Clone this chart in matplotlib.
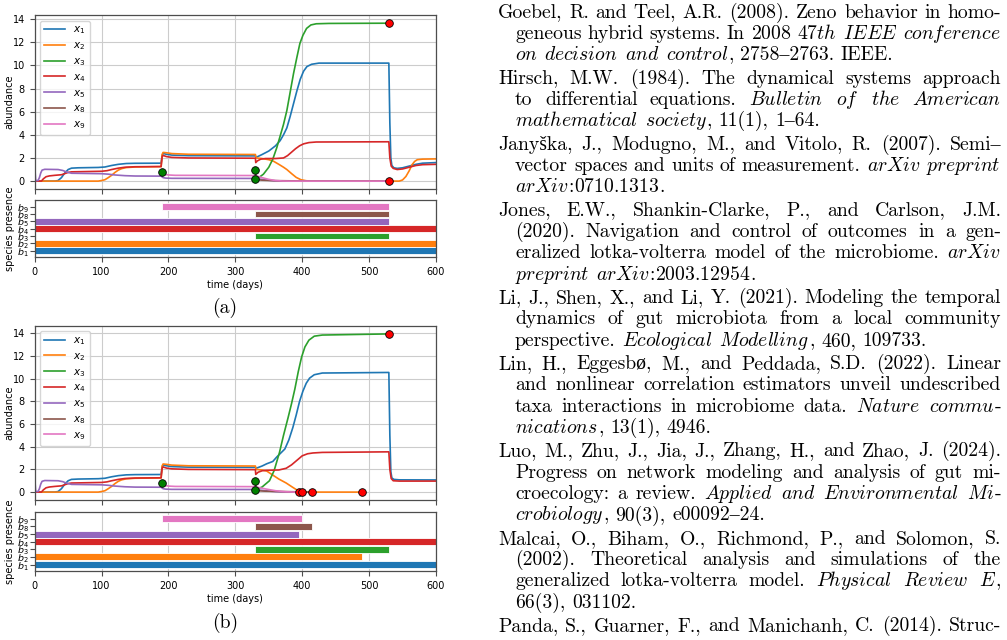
import re
import numpy as np
import matplotlib
matplotlib.use('Agg')
import matplotlib.pyplot as plt

W, H = 1007, 640

# ---------------- data ----------------
labels = [r'$x_1$', r'$x_2$', r'$x_3$', r'$x_4$', r'$x_5$', r'$x_8$', r'$x_9$']
presence_labels = [r'$b_1$', r'$b_2$', r'$b_3$', r'$b_4$', r'$b_5$', r'$b_8$', r'$b_9$']
colors = ['tab:blue', 'tab:orange', 'tab:green', 'tab:red', 'tab:purple', 'tab:brown', 'tab:pink']

# common part (days 0-330), (day, abundance)
x1_early = [(0, 0.0), (30, 0.0), (35, 0.05), (40, 0.3), (45, 0.7), (50, 1.0), (55, 1.12), (65, 1.15),
            (95, 1.18), (105, 1.22), (115, 1.35), (125, 1.45), (137, 1.52), (150, 1.54), (189, 1.55),
            (190.5, 2.2), (192, 2.4), (196, 2.33), (205, 2.25), (230, 2.2), (330, 2.18)]
x2_early = [(0, 0.0), (95, 0.0), (100, 0.05), (105, 0.12), (110, 0.3), (115, 0.5), (120, 0.75),
            (125, 0.95), (130, 1.08), (137, 1.17), (150, 1.22), (189, 1.25), (190.5, 2.3), (192, 2.48),
            (197, 2.45), (205, 2.38), (230, 2.32), (330, 2.3)]
x4_early = [(0, 0.0), (10, 0.0), (13, 0.2), (17, 0.38), (22, 0.45), (30, 0.5), (40, 0.55), (45, 0.65),
            (50, 0.75), (55, 0.8), (100, 0.85), (108, 0.9), (115, 1.0), (125, 1.12), (135, 1.2),
            (150, 1.24), (189, 1.26), (190.5, 2.1), (192, 2.22), (197, 2.12), (205, 2.05), (230, 2.0),
            (330, 1.98)]
x5_early = [(0, 1.3), (1.5, 0.05), (5, 0.05), (7, 0.3), (9, 0.7), (11, 0.95), (15, 1.02), (35, 1.0),
            (42, 0.92), (48, 0.78), (55, 0.68), (100, 0.64), (110, 0.6), (120, 0.53), (135, 0.47),
            (150, 0.44), (189, 0.43), (192, 0.3), (196, 0.26), (205, 0.24), (330, 0.23)]
x9_early = [(190, 0.8), (192, 0.68), (195, 0.58), (200, 0.53), (210, 0.5), (330, 0.48)]

# panel (a), after day 330
x1_a_late = [(331, 2.05), (340, 2.3), (350, 2.6), (360, 3.05), (367, 3.5), (372, 4.0), (377, 4.6),
             (382, 5.6), (387, 6.7), (392, 7.8), (397, 8.8), (402, 9.5), (407, 9.9), (414, 10.1),
             (425, 10.2), (529.5, 10.2), (531, 5.0), (532.5, 2.0), (534, 1.35), (537, 1.15),
             (542, 1.1), (550, 1.15), (560, 1.3), (570, 1.45), (580, 1.55), (600, 1.6)]
x2_a_late = [(331, 2.0), (340, 1.95), (350, 1.85), (357, 1.72), (365, 1.45), (372, 1.2), (377, 1.0),
             (384, 0.65), (391, 0.32), (398, 0.12), (406, 0.03), (415, 0.0), (545, 0.0), (550, 0.1),
             (555, 0.4), (560, 0.9), (564, 1.4), (568, 1.7), (572, 1.85), (580, 1.9), (600, 1.92)]
x3_a = [(330, 0.17), (335, 0.3), (342, 0.6), (350, 1.2), (356, 1.9), (362, 2.9), (367, 3.9),
        (372, 4.9), (377, 6.1), (382, 7.7), (387, 9.3), (392, 10.7), (396.5, 11.9), (401, 12.6),
        (406.5, 13.2), (413, 13.5), (421, 13.6), (440, 13.63), (530, 13.65)]
x4_a_late = [(330.5, 1.6), (333, 1.75), (338, 1.9), (345, 1.95), (360, 1.95), (372, 2.0), (378, 2.2),
             (384, 2.5), (390, 2.8), (396, 3.05), (402, 3.22), (410, 3.33), (421, 3.38), (529.5, 3.4),
             (531, 2.0), (533, 1.3), (536, 1.1), (542, 1.0), (550, 1.05), (560, 1.2), (570, 1.35),
             (580, 1.42), (600, 1.45)]
x5_a_late = [(331, 0.22), (340, 0.15), (350, 0.07), (360, 0.02), (370, 0.0), (530, 0.0)]
x8_a = [(330, 0.92), (331, 0.3), (333, 0.12), (340, 0.08), (360, 0.04), (400, 0.01), (530, 0.0)]
x9_a_late = [(331, 0.46), (340, 0.3), (350, 0.15), (360, 0.05), (370, 0.01), (380, 0.0), (530, 0.0)]

# panel (b), after day 330
x1_b_late = [(331, 2.1), (340, 2.3), (347, 2.5), (356, 2.7), (362, 3.1), (368, 3.45), (374, 3.8),
             (380, 4.6), (386, 5.7), (391, 6.8), (396, 8.0), (401, 8.9), (406, 9.6), (411, 10.05),
             (418, 10.35), (430, 10.5), (529.5, 10.55), (531, 5.0), (532.5, 1.8), (534, 1.25),
             (537, 1.12), (545, 1.08), (600, 1.07)]
x2_b_late = [(331, 2.0), (340, 1.95), (347, 1.85), (356, 1.5), (365, 1.15), (376, 0.8), (385, 0.45),
             (393, 0.15), (398, 0.03), (405, 0.0), (490, 0.0)]
x3_b = [(330, 0.2), (340, 0.45), (351, 1.0), (358, 1.9), (366, 3.5), (372, 5.0), (379, 6.6),
        (384, 7.8), (389, 9.1), (394, 10.6), (399, 11.9), (404, 12.8), (410, 13.4), (418, 13.75),
        (430, 13.85), (480, 13.9), (530, 13.95)]
x4_b_late = [(330.5, 1.56), (334, 1.75), (340, 1.88), (346, 1.92), (365, 1.95), (376, 2.1), (384, 2.4),
             (392, 2.8), (400, 3.2), (408, 3.38), (416, 3.45), (430, 3.5), (529.5, 3.55), (531, 2.0),
             (533, 1.2), (536, 1.0), (545, 0.97), (600, 0.97)]
x5_b_late = [(331, 0.22), (345, 0.12), (360, 0.04), (375, 0.01), (395, 0.0)]
x8_b = [(330, 0.94), (331, 0.3), (333, 0.12), (345, 0.08), (370, 0.05), (395, 0.02), (415, 0.0)]
x9_b_late = [(331, 0.45), (345, 0.28), (360, 0.12), (375, 0.03), (390, 0.0), (400, 0.0)]

green_t_a, green_v_a = [190, 330, 330], [0.8, 0.92, 0.17]
red_t_a, red_v_a = [530, 530], [13.65, 0.0]
green_t_b, green_v_b = [190, 330, 330], [0.83, 0.94, 0.2]
red_t_b, red_v_b = [395, 400, 415, 490, 530], [0.0, 0.0, 0.0, 0.0, 13.95]

# species presence intervals, rows b1 b2 b3 b4 b5 b8 b9
start_a = [0, 0, 330, 0, 0, 330, 190]
end_a = [600, 600, 530, 600, 530, 530, 530]
start_b = [0, 0, 330, 0, 0, 330, 190]
end_b = [600, 490, 530, 600, 395, 415, 400]

series_a = [x1_early + x1_a_late, x2_early + x2_a_late, x3_a, x4_early + x4_a_late,
            x5_early + x5_a_late, x8_a, x9_early + x9_a_late]
series_b = [x1_early + x1_b_late, x2_early + x2_b_late, x3_b, x4_early + x4_b_late,
            x5_early + x5_b_late, x8_b, x9_early + x9_b_late]

# ---------------- reference list text ----------------
refs = [
    ["Goebel, R. and Teel, A.R. (2008). Zeno behavior in homo-",
     "geneous hybrid systems. In *2008 47th IEEE conference*",
     "*on decision and control*, 2758–2763. IEEE."],
    ["Hirsch, M.W. (1984). The dynamical systems approach",
     "to differential equations. *Bulletin of the American*",
     "*mathematical society*, 11(1), 1–64."],
    ["Janyška, J., Modugno, M., and Vitolo, R. (2007). Semi–",
     "vector spaces and units of measurement. *arXiv preprint*",
     "*arXiv:0710.1313*."],
    ["Jones, E.W., Shankin-Clarke, P., and Carlson, J.M.",
     "(2020). Navigation and control of outcomes in a gen-",
     "eralized lotka-volterra model of the microbiome. *arXiv*",
     "*preprint arXiv:2003.12954*."],
    ["Li, J., Shen, X., and Li, Y. (2021). Modeling the temporal",
     "dynamics of gut microbiota from a local community",
     "perspective. *Ecological Modelling*, 460, 109733."],
    ["Lin, H., Eggesbø, M., and Peddada, S.D. (2022). Linear",
     "and nonlinear correlation estimators unveil undescribed",
     "taxa interactions in microbiome data. *Nature commu-*",
     "*nications*, 13(1), 4946."],
    ["Luo, M., Zhu, J., Jia, J., Zhang, H., and Zhao, J. (2024).",
     "Progress on network modeling and analysis of gut mi-",
     "croecology: a review. *Applied and Environmental Mi-*",
     "*crobiology*, 90(3), e00092–24."],
    ["Malcai, O., Biham, O., Richmond, P., and Solomon, S.",
     "(2002). Theoretical analysis and simulations of the",
     "generalized lotka-volterra model. *Physical Review E*,",
     "66(3), 031102."],
    ["Panda, S., Guarner, F., and Manichanh, C. (2014). Struc-"],
]

# ---------------- figure ----------------
fig = plt.figure(figsize=(W / 100, H / 100), dpi=100)


def px_axes(left, top, right, bottom):
    return fig.add_axes([left / W, 1 - bottom / H, (right - left) / W, (bottom - top) / H])


def style(ax):
    for sp in ax.spines.values():
        sp.set_color('0.3')
        sp.set_linewidth(0.9)
    ax.tick_params(labelsize=7, length=3.5, width=0.8, color='0.3')
    ax.set_axisbelow(True)


def draw_panel(ax, axp, series, gt, gv, rt, rv, starts, ends):
    for pts, c, lab in zip(series, colors, labels):
        t, v = zip(*pts)
        ax.plot(t, v, color=c, lw=1.2, label=lab)
    ax.plot(gt, gv, 'o', color='green', mec='k', mew=0.6, ms=5.5, zorder=5)
    ax.plot(rt, rv, 'o', color='red', mec='k', mew=0.6, ms=5.5, zorder=5)
    ax.set_xlim(0, 600)
    ax.set_xticks(range(0, 601, 100))
    ax.tick_params(labelbottom=False)
    ax.grid(True, color='#cccccc', lw=0.8)
    ax.legend(loc='upper left', fontsize=7.5, labelspacing=0.38)
    ax.set_ylabel('abundance', fontsize=7)
    ax.yaxis.set_label_coords(-0.05, 0.5)
    style(ax)

    rows = np.arange(len(starts))
    axp.barh(rows, np.array(ends) - np.array(starts), left=starts, height=0.9,
             color=colors, edgecolor='white', linewidth=0.6)
    axp.set_xlim(0, 600)
    axp.set_xticks(range(0, 601, 100))
    axp.set_ylim(-0.85, 6.9)
    axp.set_yticks(rows)
    axp.set_yticklabels(presence_labels)
    axp.grid(True, axis='x', color='#cccccc', lw=0.8)
    axp.set_xlabel('time (days)', fontsize=7, labelpad=2)
    axp.set_ylabel('species presence', fontsize=7)
    axp.yaxis.set_label_coords(-0.05, 0.5)
    style(axp)
    axp.tick_params(axis='y', pad=1, labelsize=6.8)


ax_a = px_axes(34.7, 15.3, 436, 189)
pa = px_axes(34.7, 200, 436, 257)
ax_b = px_axes(34.7, 326, 436, 500)
pb = px_axes(34.7, 512, 436, 571)
draw_panel(ax_a, pa, series_a, green_t_a, green_v_a, red_t_a, red_v_a, start_a, end_a)
draw_panel(ax_b, pb, series_b, green_t_b, green_v_b, red_t_b, red_v_b, start_b, end_b)

# ---------------- text column ----------------
TXT = 14.2
roman = ['cmr10', 'Liberation Serif']
rend = fig.canvas.get_renderer()


def make_text(s, y, math):
    if math:
        return fig.text(0, 1 - y / H, r'$\mathit{' + s + '}$', fontsize=TXT,
                        math_fontfamily='cm', va='baseline', ha='left')
    return fig.text(0, 1 - y / H, s, fontsize=TXT, family=roman, va='baseline', ha='left')


def width(t):
    return t.get_window_extent(rend).width


def parse(line):
    words, cur, piece, ital = [], [], '', False
    for ch in line + ' ':
        if ch == '*':
            if piece:
                cur.append((piece, ital))
                piece = ''
            ital = not ital
        elif ch == ' ':
            if piece:
                cur.append((piece, ital))
                piece = ''
            if cur:
                words.append(cur)
                cur = []
        else:
            piece += ch
    return words


def runs(s, ital):
    if not ital:
        return [(s, False)]
    out = []
    for r in re.findall(r"[A-Za-z0-9]+(?:\.[0-9]+)*|[^A-Za-z0-9]+", s):
        out.append((r, bool(re.match(r'[A-Za-z0-9]', r))))
    return out


t1 = make_text('a a', 0, False)
t2 = make_text('aa', 0, False)
space_w = width(t1) - width(t2)
t1.remove()
t2.remove()


def place_line(line, y, x0, x1, justify):
    groups = []
    for word in parse(line):
        g = []
        for s, ital in word:
            for r, m in runs(s, ital):
                t = make_text(r, y, m)
                g.append((t, width(t)))
        groups.append(g)
    wsum = [sum(w for _, w in g) for g in groups]
    if justify and len(groups) > 1:
        gap = (x1 - x0 - sum(wsum)) / (len(groups) - 1)
    else:
        gap = space_w
    x = x0
    for g, ws in zip(groups, wsum):
        for t, w in g:
            t.set_x(x / W)
            x += w
        x += gap


X_LEFT, X_IND, X_RIGHT = 498, 515, 1001
LINE, EXTRA = 21.4, 1.8
y = 17.5
for entry in refs:
    for i, line in enumerate(entry):
        x0 = X_LEFT if i == 0 else X_IND
        last = i == len(entry) - 1 and not line.endswith('-')
        place_line(line, y, x0, X_RIGHT, not last)
        y += LINE
    y += EXTRA

fig.text(225 / W, 1 - 308 / H, '(a)', family=roman, fontsize=TXT, ha='center', va='center')
fig.text(225 / W, 1 - 623 / H, '(b)', family=roman, fontsize=TXT, ha='center', va='center')

fig.savefig('out.png', dpi=100)
